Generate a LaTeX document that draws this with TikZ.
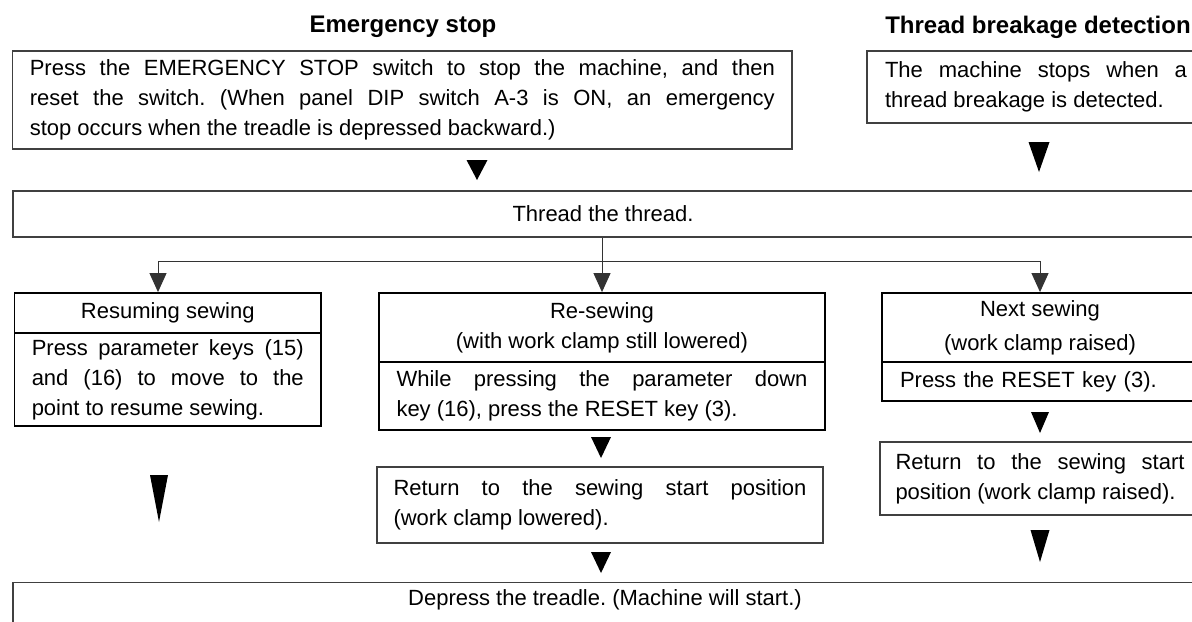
\documentclass[tikz,border=0pt]{standalone}
\usepackage{fontspec}
\setmainfont{Liberation Sans}
\usetikzlibrary{arrows.meta}
\hyphenpenalty=10000
\tolerance=9999
\frenchspacing
% black triangle pointing down: x, top y, tip y, width
\newcommand\downtri[4]{\fill[black] (#1-#4/2,#2) -- (#1+#4/2,#2) -- (#1,#3) -- cycle;}

\begin{document}
\begin{tikzpicture}[
  x=0.5pt, y=-0.5pt,
  font=\fontsize{11}{15}\selectfont,
  box/.style={draw=black!75, line width=0.65pt, inner sep=0pt, align=justify},
  headbox/.style={draw=black, line width=0.9pt, inner sep=0pt, align=center},
  bodybox/.style={draw=black, line width=0.9pt, inner sep=0pt, align=justify},
  title/.style={font=\fontsize{12}{15}\selectfont\bfseries},
  branch/.style={draw=black!80, line width=0.5pt},
  arr/.style={branch, -{Triangle[width=8.5pt,length=9.5pt]}}
]
  \useasboundingbox (0,0) rectangle (1192,621);
  \fill[white] (0,0) rectangle (1192,621);

  \node[title] (emt) at (403,27) {Emergency stop};
  \node[title] (tbt) at (1038,27) {Thread breakage detection};

  \node[box, minimum width=389.7pt, minimum height=49pt, text width=372.5pt] (em) at (402.3,100)
    {Press the EMERGENCY STOP switch to stop the machine, and then\linebreak reset the switch. (When panel DIP switch A-3 is ON, an emergency\linebreak stop occurs when the treadle is depressed backward.)};
  \node[box, minimum width=169pt, minimum height=36pt, text width=151pt] (tb) at (1036,87)
    {The machine stops when a\linebreak thread breakage is detected.};

  \node[box, align=center, minimum width=590pt, minimum height=23pt] (thr) at (603,214) {Thread the thread.};

  % resuming sewing
  \node[headbox, minimum width=153.25pt, minimum height=20pt] (resh) at (167.75,313) {Resuming sewing};
  \node[bodybox, minimum width=153.25pt, minimum height=46.5pt, text width=136pt] (resb) at (167.75,379.5)
    {Press parameter keys (15)\linebreak and (16) to move to the\linebreak point to resume sewing.};

  % re-sewing
  \node[headbox, minimum width=223pt, minimum height=34.5pt] (rswh) at (602,327.5)
    {Re-sewing\\(with work clamp still lowered)};
  \node[bodybox, minimum width=223pt, minimum height=34pt, text width=205.5pt] (rswb) at (602,396)
    {While pressing the parameter down\linebreak key (16), press the RESET key (3).};
  \node[box, minimum width=223pt, minimum height=38pt, text width=206.5pt] (rswr) at (600,505)
    {Return to the sewing start position\linebreak (work clamp lowered).};

  % next sewing
  \node[headbox, minimum width=158pt, minimum height=34.5pt, font=\fontsize{11}{17}\selectfont] (nxth) at (1040,327.5)
    {Next sewing\\(work clamp raised)};
  \node[bodybox, align=left, minimum width=158pt, minimum height=19.5pt, text width=140pt] (nxtb) at (1040,381.5)
    {Press the RESET key (3).};
  \node[box, minimum width=160pt, minimum height=36.5pt, text width=144.5pt] (nxtr) at (1040,478.5)
    {Return to the sewing start\linebreak position (work clamp raised).};

  \node[box, align=center, anchor=north, minimum width=592pt, inner ysep=3.5pt, text height=8pt, text depth=14pt] (dep) at (605,582)
    {Depress the treadle. (Machine will start.)};

  % branches
  \coordinate (bl) at (158,261);
  \coordinate (br) at (1040,261);
  \draw[branch] (bl) -- (br);
  \draw[arr] (thr.south -| rswh.north) -- (rswh.north);
  \draw[arr] (bl) -- (bl |- resh.north);
  \draw[arr] (br) -- (nxth.north);

  \downtri{477}{160}{180}{21}
  \downtri{1039}{142}{172}{21}
  \downtri{159}{475}{522}{18}
  \downtri{601}{437}{458}{20}
  \downtri{601}{552}{573}{20}
  \downtri{1040}{412}{433}{18}
  \downtri{1040}{530}{562}{19}
\end{tikzpicture}
\end{document}
